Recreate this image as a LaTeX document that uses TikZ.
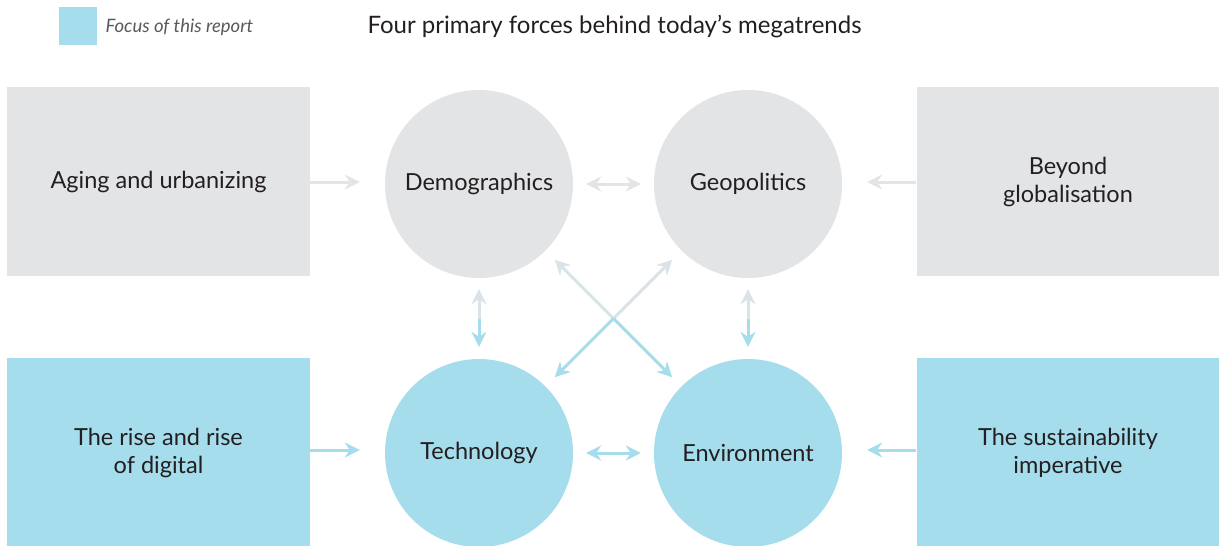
\documentclass[tikz,border=0pt]{standalone}
\usepackage{fontspec}
\setmainfont{Lato}
\usetikzlibrary{arrows.meta}

\definecolor{focus}{HTML}{A5DDED}
\definecolor{lightgrey}{HTML}{E3E4E6}
\definecolor{inkdark}{HTML}{231F20}

\begin{document}
\begin{tikzpicture}[x=1pt, y=-1pt, >={Stealth[length=15pt, width=15pt, inset=5pt]}]
   \tikzstyle{every node}=[text=inkdark, font=\fontsize{23.5}{28}\selectfont, align=center]
   \tikzstyle{force}=[circle, minimum size=188pt, inner sep=0pt]
   \tikzstyle{trend}=[minimum width=303pt, minimum height=189pt, inner sep=0pt]
   \tikzstyle{link}=[line width=3pt, ->]
   \useasboundingbox (0,0) rectangle (1219,546);

% legend and title
\node[fill=focus, minimum size=38pt, inner sep=0pt] (key) at (78,26) {};
\node[anchor=west, text=black!65, font=\fontsize{18.5}{22}\selectfont\itshape] (keytext) at (102,27) {Focus of this report};
\node[anchor=west, font=\fontsize{24}{28}\selectfont] (title) at (364,27) {Four primary forces behind today’s megatrends};

% the four forces
\node[force, fill=lightgrey] (demo) at (479,184) {Demographics};
\node[force, fill=lightgrey] (geo) at (748,184) {Geopolitics};
\node[force, fill=focus] (tech) at (479,453) {Technology};
\node[force, fill=focus] (env) at (748,453) {Environment};

% the megatrends
\node[trend, fill=lightgrey] (aging) at (158.5,181.5) {Aging and urbanizing};
\node[trend, fill=lightgrey] (beyond) at (1068,181.5) {Beyond\\globalisation};
\node[trend, fill=focus] (digital) at (158.5,452.5) {The rise and rise\\of digital};
\node[trend, fill=focus] (sustain) at (1068,452.5) {The sustainability\\imperative};

% megatrends into forces
\draw[link, lightgrey, shorten >=25pt] (aging.east |- 0,182) -- (demo.west |- 0,182);
\draw[link, lightgrey, shorten >=25pt] (beyond.west |- 0,182) -- (geo.east |- 0,182);
\draw[link, focus, shorten >=25pt] (digital.east |- 0,450) -- (tech.west |- 0,450);
\draw[link, focus, shorten >=25pt] (sustain.west |- 0,450) -- (env.east |- 0,450);

% forces between each other
\draw[link, lightgrey, <->, shorten >=13pt, shorten <=13pt] (demo) -- (geo);
\draw[link, focus, <->, shorten >=13pt, shorten <=13pt] (tech) -- (env);

% grey half and blue half of each crossing link
\coordinate (mleft) at (479,318.5);
\coordinate (mright) at (748,318.5);
\coordinate (mcross) at (613.5,318.5);
\draw[link, lightgrey!85!focus, shorten >=11pt] (mleft) -- (demo);
\draw[link, focus, shorten >=12pt] (mleft) -- (tech);
\draw[link, lightgrey!85!focus, shorten >=11pt] (mright) -- (geo);
\draw[link, focus, shorten >=12pt] (mright) -- (env);
\draw[link, lightgrey!85!focus, shorten >=13pt] (mcross) -- (demo);
\draw[link, lightgrey!85!focus, shorten >=13pt] (mcross) -- (geo);
\draw[link, focus, shorten >=13pt] (mcross) -- (tech);
\draw[link, focus, shorten >=13pt] (mcross) -- (env);

\end{tikzpicture}
\end{document}
